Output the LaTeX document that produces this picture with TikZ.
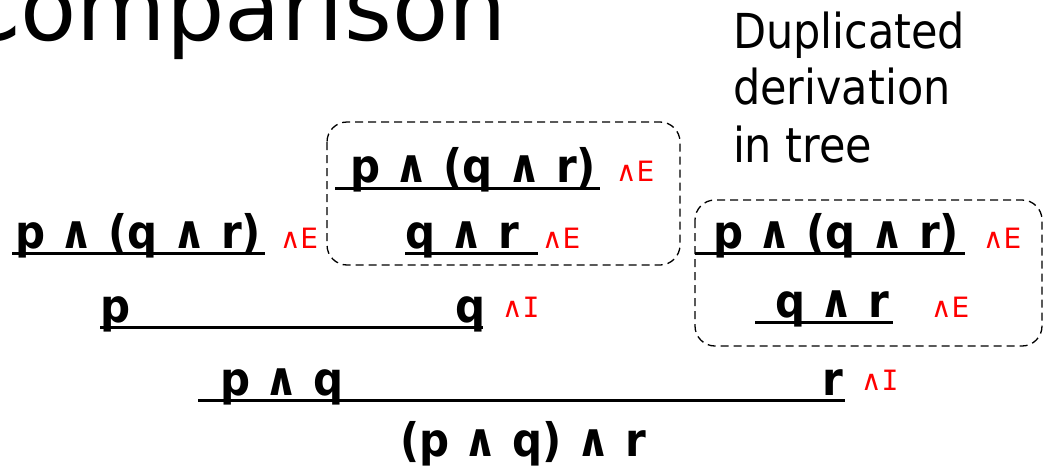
\documentclass[tikz,border=0pt]{standalone}
\usepackage{fontspec}
\usepackage{graphicx}
\setmainfont{DejaVu Sans}
\newfontfamily\monofnt{DejaVu Sans Mono}
\newcommand{\ruleI}{{\monofnt I}}
\begin{document}
\begin{tikzpicture}[x=1pt,y=-1pt,
  every node/.style={inner sep=0pt, outer sep=0pt},
  fml/.style={anchor=base west, font=\fontsize{42}{48}\selectfont\bfseries},
  rlab/.style={anchor=base west, text=red, font=\fontsize{28}{32}\selectfont},
  notetxt/.style={anchor=base west, font=\fontsize{43}{50}\selectfont},
  rule/.style={line width=3pt},
  dbox/.style={draw, line width=1.3pt, dash pattern=on 8pt off 5pt, rounded corners=20pt}]
\useasboundingbox (0,0) rectangle (1044,474);
\clip (0,0) rectangle (1044,474);
% title
\node[anchor=base east, font=\fontsize{92}{100}\selectfont] (title) at (507,40) {Comparison};
\node[notetxt] (note1) at (733,48) {\scalebox{1}[1.12]{Duplicated}};
\node[notetxt] (note2) at (733,104) {\scalebox{1}[1.12]{derivation}};
\node[notetxt] (note3) at (733,162) {\scalebox{1}[1.12]{in tree}};
% dashed boxes
\draw[dbox] (327,122) rectangle (680,265);
\draw[dbox] (695,200) rectangle (1042,346);
% row A
\node[fml] (a1) at (350,182) {\scalebox{1}[1.1]{p ∧ (q ∧ r)}};
\node[rlab] (la1) at (616,181) {∧E};
\draw[rule] (335,188) -- (600,188);
% row B
\node[fml] (b1) at (15,248) {\scalebox{1}[1.1]{p ∧ (q ∧ r)}};
\node[rlab] (lb1) at (280,248) {∧E};
\draw[rule] (12,253) -- (265,253);
\node[fml] (b2) at (405,248) {\scalebox{1}[1.1]{q ∧ r}};
\node[rlab] (lb2) at (542,248) {∧E};
\draw[rule] (405,253) -- (538,253);
\node[fml] (b3) at (713,248) {\scalebox{1}[1.1]{p ∧ (q ∧ r)}};
\node[rlab] (lb3) at (983,248) {∧E};
\draw[rule] (695,253) -- (965,253);
% row C
\node[fml] (c1) at (100,322) {\scalebox{1}[1.1]{p}};
\node[fml] (c2) at (455,322) {\scalebox{1}[1.1]{q}};
\node[rlab] (lc2) at (502,317) {∧\ruleI};
\draw[rule] (100,327) -- (483,327);
\node[fml] (c3) at (775,317) {\scalebox{1}[1.1]{q ∧ r}};
\node[rlab] (lc3) at (931,317) {∧E};
\draw[rule] (755,322) -- (893,322);
% row D
\node[fml] (d1) at (220,395) {\scalebox{1}[1.1]{p ∧ q}};
\node[fml] (d2) at (822,395) {\scalebox{1}[1.1]{r}};
\node[rlab] (ld) at (861,390) {∧\ruleI};
\draw[rule] (198,400) -- (845,400);
% row E
\node[anchor=base, font=\fontsize{42}{48}\selectfont\bfseries] (e1) at (523,456) {\scalebox{1}[1.1]{(p ∧ q) ∧ r}};
\end{tikzpicture}
\end{document}
